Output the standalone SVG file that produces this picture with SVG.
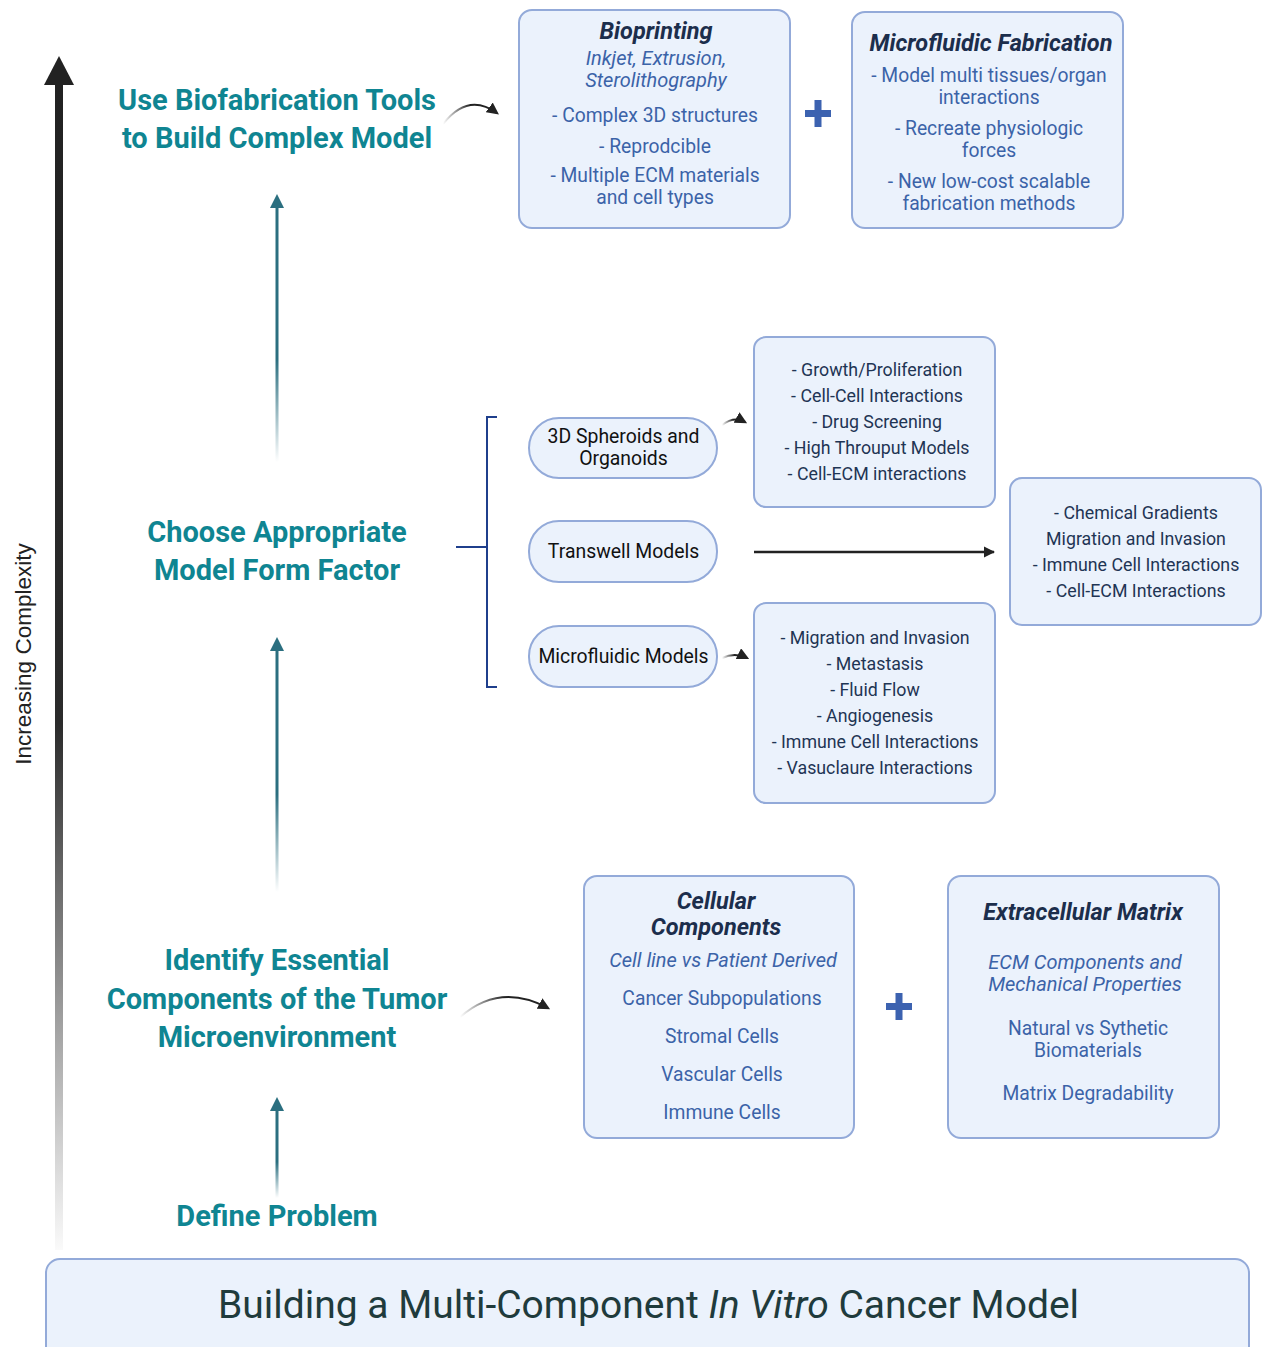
<svg xmlns="http://www.w3.org/2000/svg" width="1269" height="1347" viewBox="0 0 1269 1347">
  <style>
    text { font-family: Roboto, "Liberation Sans", sans-serif; text-anchor: middle; }
    .step { font-size: 29px; font-weight: 700; fill: #0f8592; }
    .box { fill: #ebf2fc; stroke: #93aad9; stroke-width: 2; }
    .ttl { font-size: 23.5px; font-weight: 700; font-style: italic; fill: #1c2e4c; }
    .sub { font-size: 20px; font-style: italic; fill: #3b63a8; }
    .body { font-size: 19.3px; fill: #3b63a8; }
    .mid { font-size: 17.8px; fill: #1f3554; }
    .pill { font-size: 19.4px; fill: #111; }
    .plus { fill: #3c62b0; }
    .brk { fill: none; stroke: #1f3f8c; stroke-width: 2; }
    .curve { fill: none; stroke: url(#fadeIn); stroke-width: 2; }
  </style>
  <defs>
    <linearGradient id="bigAxis" x1="0" y1="0" x2="0" y2="1">
      <stop offset="0" stop-color="#222"/>
      <stop offset="0.55" stop-color="#2b2b2b"/>
      <stop offset="1" stop-color="#fafafa"/>
    </linearGradient>
    <linearGradient id="tealFade" x1="0" y1="0" x2="0" y2="1">
      <stop offset="0" stop-color="#2b6f80"/>
      <stop offset="0.6" stop-color="#2b6f80"/>
      <stop offset="1" stop-color="#2b6f80" stop-opacity="0"/>
    </linearGradient>
    <linearGradient id="fadeIn" x1="0" y1="0" x2="1" y2="0">
      <stop offset="0" stop-color="#222" stop-opacity="0"/>
      <stop offset="0.5" stop-color="#222"/>
      <stop offset="1" stop-color="#222"/>
    </linearGradient>
    <marker id="blackHead" viewBox="0 0 10 10" refX="8" refY="5" markerWidth="6" markerHeight="6" markerUnits="strokeWidth" orient="auto">
      <path d="M0,0 L10,5 L0,10 z" fill="#222"/>
    </marker>
    <marker id="lineHead" viewBox="0 0 10 10" refX="9" refY="5" markerWidth="4.5" markerHeight="4.5" markerUnits="strokeWidth" orient="auto">
      <path d="M0,0 L10,5 L0,10 z" fill="#222"/>
    </marker>
  </defs>

  <!-- complexity axis -->
  <g id="axis">
    <rect x="55" y="80" width="8" height="1170" fill="url(#bigAxis)"/>
    <polygon points="44,85 59,56 74,85" fill="#222"/>
    <text x="0" y="0" transform="translate(31,654) rotate(-90)" style="font-family:'Liberation Sans',Arial,sans-serif;font-size:22.5px;fill:#222">Increasing Complexity</text>
  </g>

  <!-- step labels -->
  <g id="step-biofab">
    <text class="step" x="277" y="110">Use Biofabrication Tools</text>
    <text class="step" x="277" y="148">to Build Complex Model</text>
  </g>
  <g id="step-form-factor">
    <text class="step" x="277" y="542">Choose Appropriate</text>
    <text class="step" x="277" y="580">Model Form Factor</text>
  </g>
  <g id="step-components">
    <text class="step" x="277" y="970">Identify Essential</text>
    <text class="step" x="277" y="1009">Components of the Tumor</text>
    <text class="step" x="277" y="1047">Microenvironment</text>
  </g>
  <g id="step-define">
    <text class="step" x="277" y="1226">Define Problem</text>
  </g>

  <!-- biofabrication tools -->
  <g id="bioprinting">
    <rect class="box" x="519" y="10" width="271" height="218" rx="13"/>
    <text class="ttl" x="656" y="39">Bioprinting</text>
    <text class="sub" x="656" y="65">Inkjet, Extrusion,</text>
    <text class="sub" x="656" y="87">Sterolithography</text>
    <text class="body" x="655" y="122">- Complex 3D structures</text>
    <text class="body" x="655" y="153">- Reprodcible</text>
    <text class="body" x="655" y="182">- Multiple ECM materials</text>
    <text class="body" x="655" y="204">and cell types</text>
  </g>
  <g id="plus-top">
    <rect class="plus" x="805" y="110" width="26" height="7"/>
    <rect class="plus" x="814.5" y="100" width="7" height="27"/>
  </g>
  <g id="microfluidic-fabrication">
    <rect class="box" x="852" y="12" width="271" height="216" rx="13"/>
    <text class="ttl" x="991" y="51">Microfluidic Fabrication</text>
    <text class="body" x="989" y="82">- Model multi tissues/organ</text>
    <text class="body" x="989" y="104">interactions</text>
    <text class="body" x="989" y="135">- Recreate physiologic</text>
    <text class="body" x="989" y="157">forces</text>
    <text class="body" x="989" y="188">- New low-cost scalable</text>
    <text class="body" x="989" y="210">fabrication methods</text>
  </g>

  <!-- model form factors -->
  <g id="bracket">
    <path class="brk" d="M497,417 H487 V687 H497 M456,547 H487"/>
  </g>
  <g id="spheroids">
    <rect class="box" x="529" y="418" width="188" height="60" rx="30"/>
    <text class="pill" x="623.5" y="443">3D Spheroids and</text>
    <text class="pill" x="623.5" y="465">Organoids</text>
  </g>
  <g id="transwell">
    <rect class="box" x="529" y="521" width="188" height="61" rx="30"/>
    <text class="pill" x="623.5" y="558">Transwell Models</text>
  </g>
  <g id="microfluidic-models">
    <rect class="box" x="529" y="626" width="188" height="61" rx="30"/>
    <text class="pill" x="623.5" y="663">Microfluidic Models</text>
  </g>
  <g id="spheroid-uses">
    <rect class="box" x="754" y="337" width="241" height="170" rx="12"/>
    <text class="mid" x="877" y="376">- Growth/Proliferation</text>
    <text class="mid" x="877" y="402">- Cell-Cell Interactions</text>
    <text class="mid" x="877" y="428">- Drug Screening</text>
    <text class="mid" x="877" y="454">- High Throuput Models</text>
    <text class="mid" x="877" y="480">- Cell-ECM interactions</text>
  </g>
  <g id="transwell-uses">
    <rect class="box" x="1010" y="478" width="251" height="147" rx="12"/>
    <text class="mid" x="1136" y="519">- Chemical Gradients</text>
    <text class="mid" x="1136" y="545">Migration and Invasion</text>
    <text class="mid" x="1136" y="571">- Immune Cell Interactions</text>
    <text class="mid" x="1136" y="597">- Cell-ECM Interactions</text>
  </g>
  <g id="microfluidic-uses">
    <rect class="box" x="754" y="603" width="241" height="200" rx="12"/>
    <text class="mid" x="875" y="644">- Migration and Invasion</text>
    <text class="mid" x="875" y="670">- Metastasis</text>
    <text class="mid" x="875" y="696">- Fluid Flow</text>
    <text class="mid" x="875" y="722">- Angiogenesis</text>
    <text class="mid" x="875" y="748">- Immune Cell Interactions</text>
    <text class="mid" x="875" y="774">- Vasuclaure Interactions</text>
  </g>

  <!-- tumor microenvironment components -->
  <g id="cellular-components">
    <rect class="box" x="584" y="876" width="270" height="262" rx="13"/>
    <text class="ttl" x="716" y="909">Cellular</text>
    <text class="ttl" x="716" y="935">Components</text>
    <text class="sub" x="723" y="967">Cell line vs Patient Derived</text>
    <text class="body" x="722" y="1005">Cancer Subpopulations</text>
    <text class="body" x="722" y="1043">Stromal Cells</text>
    <text class="body" x="722" y="1081">Vascular Cells</text>
    <text class="body" x="722" y="1119">Immune Cells</text>
  </g>
  <g id="plus-bottom">
    <rect class="plus" x="886" y="1003" width="26" height="7"/>
    <rect class="plus" x="895.5" y="993" width="7" height="27"/>
  </g>
  <g id="extracellular-matrix">
    <rect class="box" x="948" y="876" width="271" height="262" rx="13"/>
    <text class="ttl" x="1083" y="920">Extracellular Matrix</text>
    <text class="sub" x="1085" y="969">ECM Components and</text>
    <text class="sub" x="1085" y="991">Mechanical Properties</text>
    <text class="body" x="1088" y="1035">Natural vs Sythetic</text>
    <text class="body" x="1088" y="1057">Biomaterials</text>
    <text class="body" x="1088" y="1100">Matrix Degradability</text>
  </g>

  <!-- banner -->
  <g id="banner">
    <rect class="box" x="46" y="1259" width="1203" height="110" rx="14"/>
    <text x="648.5" y="1318" style="font-size:39px;fill:#1f3b3c">Building a Multi-Component <tspan font-style="italic">In Vitro</tspan> Cancer Model</text>
  </g>

  <!-- connectors -->
  <g id="connectors">
    <rect x="275.5" y="205" width="3" height="257" fill="url(#tealFade)"/>
    <polygon points="270,208 277,194 284,208" fill="#2b6f80"/>
    <rect x="275.5" y="648" width="3" height="244" fill="url(#tealFade)"/>
    <polygon points="270,651 277,637 284,651" fill="#2b6f80"/>
    <rect x="275.5" y="1108" width="3" height="90" fill="url(#tealFade)"/>
    <polygon points="270,1111 277,1097 284,1111" fill="#2b6f80"/>

    <path class="curve" d="M443,124 Q468,92 497,113" marker-end="url(#blackHead)"/>
    <path class="curve" d="M460,1017 Q500,982 548,1008" marker-end="url(#blackHead)"/>
    <path class="curve" d="M722,425 Q734,416 745,422" marker-end="url(#blackHead)"/>
    <path class="curve" d="M722,658 Q735,652 747,658" marker-end="url(#blackHead)"/>

    <line x1="754" y1="552" x2="994" y2="552" stroke="#222" stroke-width="2.5" marker-end="url(#lineHead)"/>
  </g>
</svg>
